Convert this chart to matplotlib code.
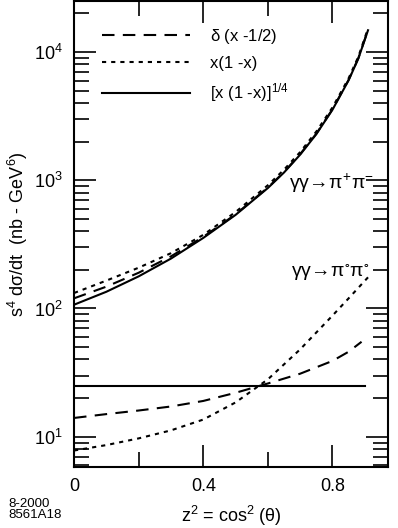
import numpy as np
import matplotlib.pyplot as plt
from matplotlib.ticker import LogLocator, MultipleLocator, NullFormatter

plt.rcParams['font.family'] = ['Liberation Sans', 'DejaVu Sans']
plt.rcParams['mathtext.fontset'] = 'custom'
plt.rcParams['mathtext.rm'] = 'Liberation Sans'
plt.rcParams['mathtext.default'] = 'regular'

# gamma gamma -> pi+ pi-
x_pm = [0, 0.1, 0.2, 0.3, 0.4, 0.5, 0.6, 0.65, 0.7, 0.75, 0.8, 0.85, 0.88, 0.91]
pm_delta = [120, 148, 190, 255, 362, 542, 878, 1160, 1600, 2310, 3580, 6080, 8950, 14900]
pm_x1x = [132, 165, 208, 270, 375, 565, 915, 1210, 1660, 2400, 3700, 6250, 9200, 15300]
pm_quarter = [107, 135, 178, 245, 355, 537, 870, 1150, 1585, 2290, 3550, 6030, 8900, 14800]

# gamma gamma -> pi0 pi0
x_00 = [0, 0.1, 0.2, 0.3, 0.4, 0.5, 0.6, 0.7, 0.8, 0.85, 0.89]
x_00_dot = [0, 0.1, 0.2, 0.3, 0.4, 0.5, 0.6, 0.7, 0.8, 0.85, 0.91]
n0_delta = [14, 15, 16, 17.2, 19, 22, 26, 31, 39, 46, 55]
n0_x1x = [7.8, 8.6, 9.7, 11.2, 13.6, 18.5, 28, 48, 88, 120, 175]
x_00_flat = [0, 0.9]
n0_quarter = [25, 25]

labels = [r'$\delta$ (x -1/2)', 'x(1 -x)', r'[x (1 -x)]$^{1/4}$']

fig = plt.figure(figsize=(3.98, 5.28), dpi=100)
ax = fig.add_axes([0.186, 0.1155, 0.789, 0.8825])

dash = (6, 4)
dot = (2, 2.4)
lw = 1.5

ax.plot(x_pm, pm_delta, color='black', lw=lw, dashes=dash, label=labels[0])
ax.plot(x_pm, pm_x1x, color='black', lw=lw, dashes=dot, label=labels[1])
ax.plot(x_pm, pm_quarter, color='black', lw=lw, label=labels[2])

ax.plot(x_00, n0_delta, color='black', lw=lw, dashes=dash)
ax.plot(x_00_dot, n0_x1x, color='black', lw=lw, dashes=dot)
ax.plot(x_00_flat, n0_quarter, color='black', lw=lw)

ax.set_yscale('log')
ax.set_xlim(0, 0.972)
ax.set_ylim(5.8, 25000)

ax.xaxis.set_major_locator(MultipleLocator(0.4))
ax.xaxis.set_minor_locator(MultipleLocator(0.2))
ax.xaxis.set_major_formatter(plt.FuncFormatter(lambda v, p: '0' if v == 0 else f'{v:.1f}'))
ax.yaxis.set_major_locator(LogLocator(base=10, numticks=10))
ax.yaxis.set_minor_locator(LogLocator(base=10, subs=np.arange(2, 10), numticks=20))
ax.yaxis.set_minor_formatter(NullFormatter())

ax.tick_params(which='both', direction='in', top=True, right=True, width=1.2,
               labelsize=13, colors='black')
ax.tick_params(which='major', length=16, pad=8)
ax.tick_params(which='minor', length=11)
for s in ax.spines.values():
    s.set_linewidth(1.5)

ax.set_xlabel(r'z$^2$ = cos$^2$ ($\theta$)', fontsize=13, labelpad=6)
ax.set_ylabel(r's$^4$ d$\sigma$/dt  (nb - GeV$^6$)', fontsize=13)
ax.yaxis.set_label_coords(-0.14, 0.5)

ax.text(0.665, 950, r'$\gamma\gamma\!\rightarrow\!\pi^{+}\pi^{-}$', fontsize=14,
        math_fontfamily='stix', va='center', ha='left')
ax.text(0.672, 190, r'$\gamma\gamma\!\rightarrow\!\pi^{\circ}\pi^{\circ}$', fontsize=14,
        math_fontfamily='stix', va='center', ha='left')

ax.legend(loc='upper left', bbox_to_anchor=(0.089, 0.945), frameon=False, fontsize=12,
          handlelength=5.3, handletextpad=1.2, labelspacing=0.62,
          borderpad=0, borderaxespad=0)

fig.text(0.02, 0.040, '8-2000', fontsize=9.5)
fig.text(0.02, 0.019, '8561A18', fontsize=9.5)

fig.savefig('out.png', dpi=100)
